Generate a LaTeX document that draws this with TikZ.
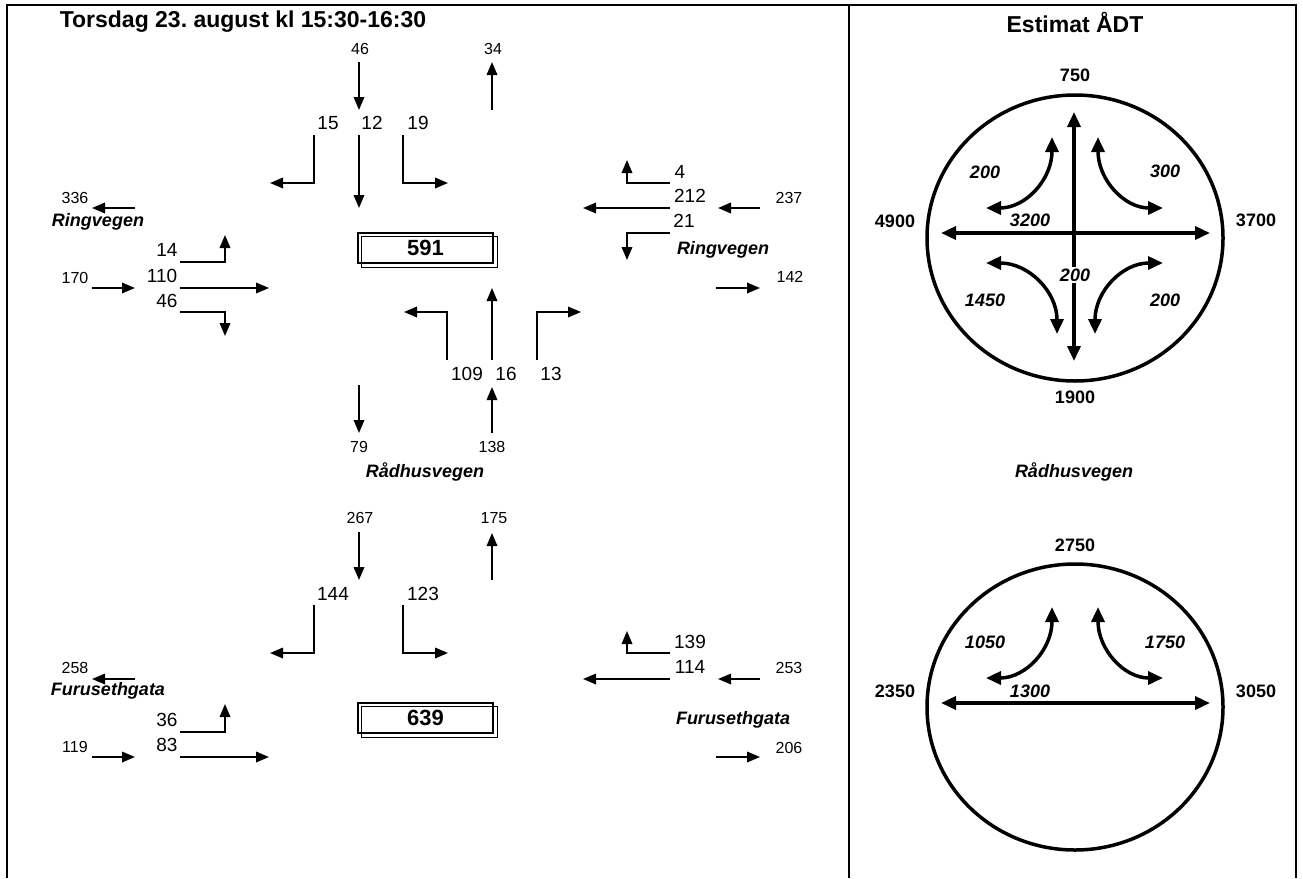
\documentclass[tikz,border=0pt]{standalone}
\usepackage{fontspec}
\setmainfont{Liberation Sans}
\usetikzlibrary{arrows.meta, calc}
\frenchspacing

\begin{document}
\begin{tikzpicture}[x=1pt, y=-1pt,
  flow/.style={-{Triangle[length=13pt, width=10.5pt]}, line width=1.8pt},
  cnt/.style={inner sep=0pt, font=\fontsize{16}{18}\selectfont},
  mov/.style={inner sep=0pt, font=\fontsize{19}{21}\selectfont},
  road/.style={inner sep=0pt, font=\fontsize{18}{20}\selectfont\bfseries\itshape},
  tot/.style={draw, line width=1.2pt, minimum width=135pt, minimum height=30pt, inner sep=0pt, font=\fontsize{22}{24}\selectfont\bfseries},
  head/.style={inner sep=0pt, font=\fontsize{23}{25}\selectfont\bfseries},
  adt/.style={inner sep=0pt, font=\fontsize{18}{20}\selectfont\bfseries},
  adti/.style={inner sep=0pt, font=\fontsize{18}{20}\selectfont\bfseries\itshape},
  big/.style={{Triangle[length=15pt, width=13pt]}-{Triangle[length=15pt, width=13pt]}, line width=3.5pt},
  ring/.style={line width=3.5pt},
  frame/.style={line width=2.5pt}
]
  \useasboundingbox (0,0) rectangle (1303,878);

  % ramme
  \draw[frame] (7,878) -- (7,5) -- (1296,5) -- (1296,878);
  \draw[frame] (849,5) -- (849,878);
  \node[head] (title) at (243,22) {Torsdag 23. august kl 15:30-16:30};
  \node[head] (adttitle) at (1075,22) {Estimat ÅDT};

  % ---- Ringvegen / Rådhusvegen ----
  % nord
  \node[cnt] (n46) at (360,49) {46};
  \node[cnt] (n34) at (493,49) {34};
  \node[mov] (m15) at (328,123) {15};
  \node[mov] (m12) at (372,123) {12};
  \node[mov] (m19) at (418,123) {19};
  \coordinate (n46a) at (359,62);  \coordinate (n46b) at (359,110);
  \coordinate (n34a) at (492,110); \coordinate (n34b) at (492,62);
  \coordinate (nl) at (314,135);   \coordinate (nle) at (270,183);
  \coordinate (ns) at (359,135);   \coordinate (nse) at (359,208);
  \coordinate (nr) at (403,135);   \coordinate (nre) at (448,183);
  \draw[flow] (n46a) -- (n46b);
  \draw[flow] (n34a) -- (n34b);
  \draw[flow] (nl) |- (nle);
  \draw[flow] (ns) -- (nse);
  \draw[flow] (nr) |- (nre);

  % vest
  \node[cnt] (w336) at (75,198) {336};
  \node[road] (ringw) at (98,222) {Ringvegen};
  \node[mov] (m14) at (167,250) {14};
  \node[mov] (m110) at (162,276) {110};
  \node[cnt] (w170) at (75,278) {170};
  \node[mov] (m46) at (167,301) {46};
  \coordinate (w336a) at (135,208); \coordinate (w336b) at (92,208);
  \coordinate (w170a) at (92,288);  \coordinate (w170b) at (135,288);
  \coordinate (wl) at (180,262);    \coordinate (wle) at (225,235);
  \coordinate (ws) at (180,288);    \coordinate (wse) at (269,288);
  \coordinate (wr) at (180,312);    \coordinate (wre) at (225,336);
  \draw[flow] (w336a) -- (w336b);
  \draw[flow] (w170a) -- (w170b);
  \draw[flow] (wl) -| (wle);
  \draw[flow] (ws) -- (wse);
  \draw[flow] (wr) -| (wre);

  % sum
  \node[tot] (t591) at (425.5,248) {591};
  \draw[line width=1.2pt] ($(t591.north west)+(4,4)$) rectangle ($(t591.south east)+(4,4)$);

  % øst
  \node[mov] (m4) at (680,172) {4};
  \node[mov] (m212) at (690,196) {212};
  \node[cnt] (e237) at (789,198) {237};
  \node[mov] (m21) at (684,221) {21};
  \node[road] (ringe) at (723,250) {Ringvegen};
  \node[cnt] (e142) at (790,277) {142};
  \coordinate (el) at (670,183);    \coordinate (ele) at (627,160);
  \coordinate (es) at (670,208);    \coordinate (ese) at (583,208);
  \coordinate (er) at (670,233);    \coordinate (ere) at (627,260);
  \coordinate (e237a) at (760,208); \coordinate (e237b) at (718,208);
  \coordinate (e142a) at (716,288); \coordinate (e142b) at (760,288);
  \draw[flow] (el) -| (ele);
  \draw[flow] (es) -- (ese);
  \draw[flow] (er) -| (ere);
  \draw[flow] (e237a) -- (e237b);
  \draw[flow] (e142a) -- (e142b);

  % sør
  \node[mov] (m109) at (467,374) {109};
  \node[mov] (m16) at (506,374) {16};
  \node[mov] (m13) at (551,374) {13};
  \node[cnt] (s79) at (359,447) {79};
  \node[cnt] (s138) at (492,447) {138};
  \node[road] (radh) at (425,472) {Rådhusvegen};
  \coordinate (sl) at (447,360);    \coordinate (sle) at (404,312);
  \coordinate (ss) at (492,360);    \coordinate (sse) at (492,288);
  \coordinate (sr) at (537,360);    \coordinate (sre) at (581,312);
  \coordinate (s138a) at (492,433); \coordinate (s138b) at (492,387);
  \coordinate (s79a) at (359,385);  \coordinate (s79b) at (359,433);
  \draw[flow] (sl) |- (sle);
  \draw[flow] (ss) -- (sse);
  \draw[flow] (sr) |- (sre);
  \draw[flow] (s138a) -- (s138b);
  \draw[flow] (s79a) -- (s79b);

  % ---- Furusethgata / Rådhusvegen ----
  % nord
  \node[cnt] (n267) at (360,518) {267};
  \node[cnt] (n175) at (494,518) {175};
  \node[mov] (m144) at (333,594) {144};
  \node[mov] (m123) at (423,594) {123};
  \coordinate (n267a) at (359,532); \coordinate (n267b) at (359,580);
  \coordinate (n175a) at (492,580); \coordinate (n175b) at (492,533);
  \coordinate (ql) at (314,605);    \coordinate (qle) at (270,653);
  \coordinate (qr) at (403,605);    \coordinate (qre) at (448,653);
  \draw[flow] (n267a) -- (n267b);
  \draw[flow] (n175a) -- (n175b);
  \draw[flow] (ql) |- (qle);
  \draw[flow] (qr) |- (qre);

  % vest
  \node[cnt] (w258) at (75,668) {258};
  \node[road] (furw) at (108,691) {Furusethgata};
  \node[mov] (m36) at (167,720) {36};
  \node[cnt] (w119) at (75,747) {119};
  \node[mov] (m83) at (167,745) {83};
  \coordinate (w258a) at (135,679); \coordinate (w258b) at (92,679);
  \coordinate (w119a) at (92,757);  \coordinate (w119b) at (135,757);
  \coordinate (vl) at (180,732);    \coordinate (vle) at (225,704);
  \coordinate (vs) at (180,757);    \coordinate (vse) at (269,757);
  \draw[flow] (w258a) -- (w258b);
  \draw[flow] (w119a) -- (w119b);
  \draw[flow] (vl) -| (vle);
  \draw[flow] (vs) -- (vse);

  % sum
  \node[tot] (t639) at (425.5,718) {639};
  \draw[line width=1.2pt] ($(t639.north west)+(4,4)$) rectangle ($(t639.south east)+(4,4)$);

  % øst
  \node[mov] (m139) at (690,642) {139};
  \node[mov] (m114) at (690,667) {114};
  \node[cnt] (e253) at (789,668) {253};
  \node[road] (fure) at (733,720) {Furusethgata};
  \node[cnt] (e206) at (789,748) {206};
  \coordinate (fl) at (670,653);    \coordinate (fle) at (627,631);
  \coordinate (fs) at (670,679);    \coordinate (fse) at (583,679);
  \coordinate (e253a) at (760,679); \coordinate (e253b) at (718,679);
  \coordinate (e206a) at (716,757); \coordinate (e206b) at (760,757);
  \draw[flow] (fl) -| (fle);
  \draw[flow] (fs) -- (fse);
  \draw[flow] (e253a) -- (e253b);
  \draw[flow] (e206a) -- (e206b);

  % ---- ÅDT, kryss 1 ----
  \draw[ring] (1075,238) ellipse [x radius=148, y radius=143];
  \node[adt] (a750) at (1075,75) {750};
  \node[adt] (a1900) at (1075,397) {1900};
  \node[adt] (a4900) at (895,221) {4900};
  \node[adt] (a3700) at (1256,220) {3700};
  \coordinate (aw) at (941,233);  \coordinate (ae) at (1210,233);
  \coordinate (an) at (1074,112); \coordinate (as) at (1074,361);
  \draw[big] (aw) -- (ae);
  \draw[big] (an) -- (as);
  \coordinate (nwA) at (1052,137); \coordinate (nwB) at (986,208);
  \coordinate (neA) at (1098,137); \coordinate (neB) at (1163,208);
  \coordinate (swA) at (986,263);  \coordinate (swB) at (1057,334);
  \coordinate (seA) at (1163,263); \coordinate (seB) at (1095,334);
  \draw[big] (nwA) .. controls ($(nwA)!.6!(nwA|-nwB)$) and ($(nwB)!.6!(nwA|-nwB)$) .. (nwB);
  \draw[big] (neA) .. controls ($(neA)!.6!(neA|-neB)$) and ($(neB)!.6!(neA|-neB)$) .. (neB);
  \draw[big] (swA) .. controls ($(swA)!.6!(swB|-swA)$) and ($(swB)!.6!(swB|-swA)$) .. (swB);
  \draw[big] (seA) .. controls ($(seA)!.6!(seB|-seA)$) and ($(seB)!.6!(seB|-seA)$) .. (seB);
  \node[adti] (a200nw) at (985,172) {200};
  \node[adti] (a300) at (1165,171) {300};
  \node[adti] (a3200) at (1030,220) {3200};
  \node[adti, fill=white, inner sep=2pt] (a200c) at (1075,275) {200};
  \node[adti] (a1450) at (985,300) {1450};
  \node[adti] (a200se) at (1165,300) {200};

  % ---- ÅDT, kryss 2 ----
  \node[road] (radh2) at (1074,472) {Rådhusvegen};
  \draw[ring] (1075,707) ellipse [x radius=148, y radius=143];
  \node[adt] (b2750) at (1075,545) {2750};
  \node[adt] (b2350) at (895,691) {2350};
  \node[adt] (b3050) at (1256,691) {3050};
  \coordinate (bw) at (941,703);  \coordinate (be) at (1210,703);
  \draw[big] (bw) -- (be);
  \coordinate (bnwA) at (1052,607); \coordinate (bnwB) at (986,678);
  \coordinate (bneA) at (1098,607); \coordinate (bneB) at (1163,678);
  \draw[big] (bnwA) .. controls ($(bnwA)!.6!(bnwA|-bnwB)$) and ($(bnwB)!.6!(bnwA|-bnwB)$) .. (bnwB);
  \draw[big] (bneA) .. controls ($(bneA)!.6!(bneA|-bneB)$) and ($(bneB)!.6!(bneA|-bneB)$) .. (bneB);
  \node[adti] (b1050) at (985,642) {1050};
  \node[adti] (b1750) at (1165,642) {1750};
  \node[adti] (b1300) at (1030,691) {1300};
\end{tikzpicture}
\end{document}
